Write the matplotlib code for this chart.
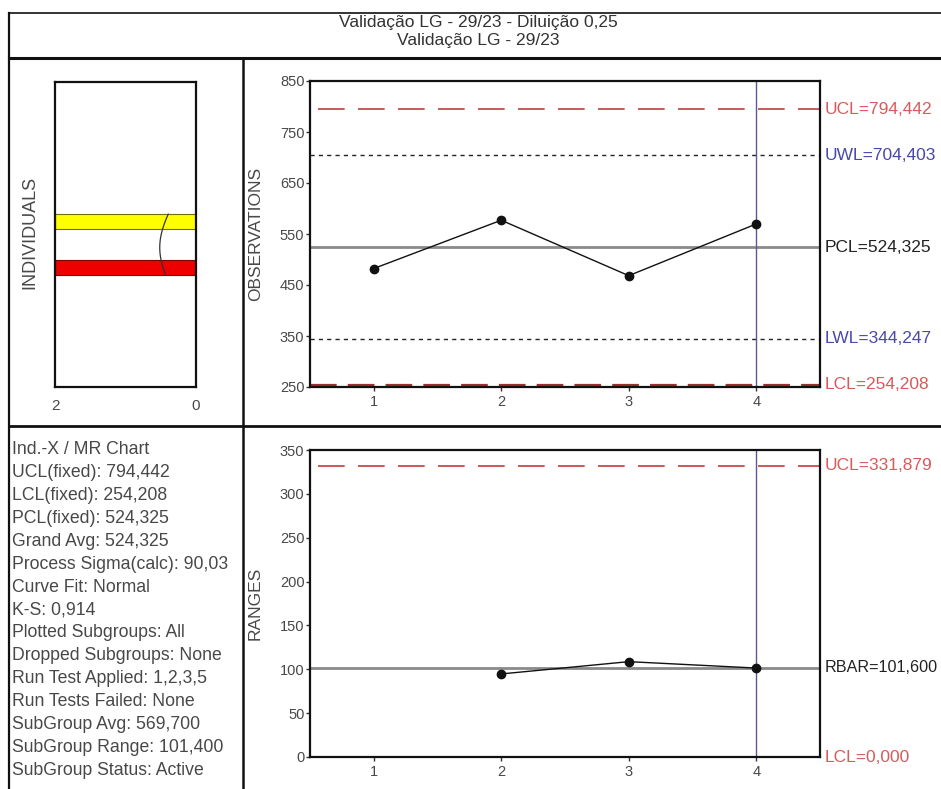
import numpy as np
import matplotlib
matplotlib.use("Agg")
import matplotlib.pyplot as plt
from matplotlib.lines import Line2D

# ---------------- data ----------------
title_lines = ["Validação LG - 29/23 - Diluição 0,25", "Validação LG - 29/23"]
subgroups = [1, 2, 3, 4]
observations = [482.3, 577.0, 468.3, 569.7]
moving_ranges = [np.nan, 94.7, 108.7, 101.4]

ucl_x = 794.442
uwl_x = 704.403
pcl_x = 524.325
lwl_x = 344.247
lcl_x = 254.208
ucl_r = 331.879
rbar = 101.600
lcl_r = 0.000
process_sigma = 90.03
current_subgroup = 4

hist_bin_low = [470, 561]
hist_bin_high = [499, 590]
hist_counts = [2, 2]
hist_colors = ["#ee0000", "#ffff00"]
hist_edges = ["#800000", "#707000"]

obs_yticks = [250, 350, 450, 550, 650, 750, 850]
rng_yticks = [0, 50, 100, 150, 200, 250, 300, 350]
hist_xticks = [2, 0]

info_lines = [
    "Ind.-X / MR Chart",
    "UCL(fixed): 794,442",
    "LCL(fixed): 254,208",
    "PCL(fixed): 524,325",
    "Grand Avg: 524,325",
    "Process Sigma(calc): 90,03",
    "Curve Fit: Normal",
    "K-S: 0,914",
    "Plotted Subgroups: All",
    "Dropped Subgroups: None",
    "Run Test Applied: 1,2,3,5",
    "Run Tests Failed: None",
    "SubGroup Avg: 569,700",
    "SubGroup Range: 101,400",
    "SubGroup Status: Active",
]

# ---------------- style ----------------
plt.rcParams["font.family"] = ["Liberation Sans", "DejaVu Sans"]

W, H = 941, 789
fig = plt.figure(figsize=(W / 100, H / 100), dpi=100)
fig.patch.set_facecolor("white")

RED = "#c43c3c"
RED_T = "#d85a5a"
BLUE_T = "#4848a8"
VLINE = "#5a5a9a"
GREY_T = "#484848"


def fx(x):
    return x / W


def fy(y):
    return 1 - y / H


def add_ax(x0, y0, x1, y1):
    return fig.add_axes([fx(x0), fy(y1), (x1 - x0) / W, (y1 - y0) / H])


def fline(xs, ys, lw=1.6, color="#111111"):
    fig.add_artist(Line2D([fx(v) for v in xs], [fy(v) for v in ys],
                          transform=fig.transFigure, lw=lw, color=color))


def fmt(v):
    return f"{v:.3f}".replace(".", ",")


# ---------------- frame ----------------
fline([9, W], [13, 13], lw=1.4, color="#333333")
fline([9, 9], [13, H], lw=1.6)
fline([9, W], [58, 58], lw=2.2)
fline([243, 243], [58, H], lw=1.8)
fline([9, W], [426, 426], lw=2.0)

fig.text(fx(478), fy(23), title_lines[0], ha="center", va="center",
         fontsize=12.5, color="#333333")
fig.text(fx(478), fy(41), title_lines[1], ha="center", va="center",
         fontsize=12.5, color="#333333")


def style_axis(ax):
    for s in ax.spines.values():
        s.set_linewidth(1.6)
        s.set_color("#111111")
    ax.tick_params(axis="both", direction="out", length=3, width=1,
                   pad=1, labelsize=10.5, labelcolor=GREY_T, color="#333333")


AX_L, AX_R = 310, 820

# ---------------- observations chart ----------------
ax1 = add_ax(AX_L, 81, AX_R, 387)
ax1.set_xlim(0.5, 4.5)
ax1.set_ylim(250, 850)
ax1.axhline(ucl_x, color=RED, lw=1.2, dashes=(16, 8), xmin=0.016)
ax1.axhline(uwl_x, color="#222222", lw=1.0, dashes=(3, 3))
ax1.axhline(pcl_x, color="#8a8a8a", lw=2.0)
ax1.axhline(lwl_x, color="#222222", lw=1.0, dashes=(3, 3))
ax1.axhline(lcl_x, color="#9a3030", lw=1.6, dashes=(12, 5))
ax1.axvline(current_subgroup, color=VLINE, lw=1.0)
ax1.plot(subgroups, observations, color="#111111", lw=1.0,
         marker="o", markersize=6)
ax1.set_xticks(subgroups)
ax1.set_yticks(obs_yticks)
style_axis(ax1)
ax1.tick_params(axis="x", pad=3)
ax1.set_ylabel("OBSERVATIONS", fontsize=12.5, color=GREY_T)
ax1.yaxis.set_label_coords((263 - AX_L) / (AX_R - AX_L), 0.5)

xt = ax1.get_yaxis_transform()
for val, lab, col in [(ucl_x, "UCL", RED_T), (uwl_x, "UWL", BLUE_T),
                      (pcl_x, "PCL", "#222222"), (lwl_x, "LWL", BLUE_T),
                      (lcl_x, "LCL", RED_T)]:
    ax1.text(1.009, val, f"{lab}={fmt(val)}", transform=xt, ha="left",
             va="center", fontsize=12.5, color=col, clip_on=False)

# ---------------- histogram ----------------
axh = add_ax(55, 82, 196, 387)
axh.set_xlim(2, 0)
axh.set_ylim(250, 850)
for lo, hi, c, fc, ec in zip(hist_bin_low, hist_bin_high, hist_counts,
                             hist_colors, hist_edges):
    axh.barh(lo, c, height=hi - lo, align="edge", color=fc,
             edgecolor=ec, lw=0.8)
yy = np.linspace(min(hist_bin_low), max(hist_bin_high), 100)
k = sum(hist_counts) * (hist_bin_high[0] - hist_bin_low[0])
pdf = k * np.exp(-0.5 * ((yy - pcl_x) / process_sigma) ** 2) / (
    process_sigma * np.sqrt(2 * np.pi))
axh.plot(pdf, yy, color="#333333", lw=0.9)
axh.set_xticks(hist_xticks)
axh.set_xticklabels([str(t) for t in hist_xticks])
axh.set_yticks([])
style_axis(axh)
axh.tick_params(axis="x", length=0, pad=9, labelsize=11)
fig.text(fx(30), fy(232), "INDIVIDUALS", rotation=90, ha="center",
         va="center", fontsize=13, color=GREY_T)

# ---------------- ranges chart ----------------
ax2 = add_ax(AX_L, 450, AX_R, 757)
ax2.set_xlim(0.5, 4.5)
ax2.set_ylim(0, 350)
ax2.axhline(ucl_r, color=RED, lw=1.2, dashes=(16, 8), xmin=0.016)
ax2.axhline(rbar, color="#8a8a8a", lw=2.0)
ax2.axvline(current_subgroup, color=VLINE, lw=1.0)
ax2.plot(subgroups, moving_ranges, color="#111111", lw=1.0,
         marker="o", markersize=6)
ax2.set_xticks(subgroups)
ax2.set_yticks(rng_yticks)
style_axis(ax2)
ax2.tick_params(axis="x", pad=3)
ax2.set_ylabel("RANGES", fontsize=12.5, color=GREY_T)
ax2.yaxis.set_label_coords((263 - AX_L) / (AX_R - AX_L), 0.5)
xt2 = ax2.get_yaxis_transform()
for val, lab, col, fs in [(ucl_r, "UCL", RED_T, 12.5),
                          (rbar, "RBAR", "#222222", 11.6),
                          (lcl_r, "LCL", RED_T, 12.5)]:
    ax2.text(1.009, val, f"{lab}={fmt(val)}", transform=xt2, ha="left",
             va="center", fontsize=fs, color=col, clip_on=False)

# ---------------- info panel ----------------
for i, line in enumerate(info_lines):
    fig.text(fx(12), fy(450 + i * 22.86), line, ha="left", va="center",
             fontsize=12.7, color=GREY_T)

fig.savefig("out.png", dpi=100, facecolor="white")
